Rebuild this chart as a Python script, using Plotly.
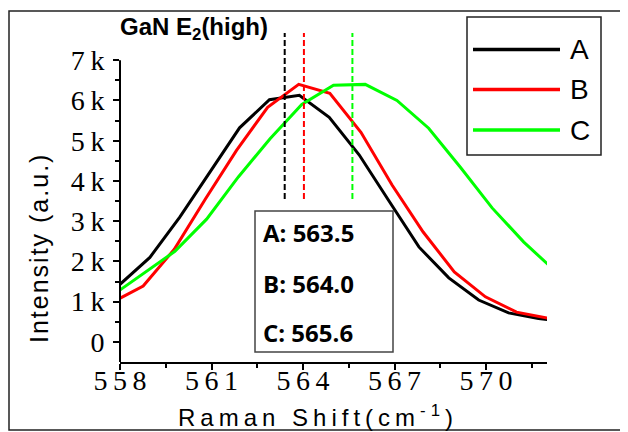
import plotly.graph_objects as go

# ---- data (intensity in thousands of counts) ----
x_A = [558.0, 558.98, 559.96, 560.94, 561.92, 562.9, 563.88, 564.86, 565.84, 566.82, 567.8, 568.78, 569.76, 570.74, 571.72, 572.7]
y_A = [1.43, 2.1, 3.1, 4.22, 5.32, 6.02, 6.13, 5.58, 4.65, 3.5, 2.36, 1.59, 1.04, 0.72, 0.58, 0.5]

x_B = [557.74, 558.76, 559.78, 560.8, 561.82, 562.84, 563.86, 564.88, 565.9, 566.92, 567.94, 568.96, 569.98, 571.0, 572.02]
y_B = [0.98, 1.39, 2.3, 3.55, 4.76, 5.83, 6.4, 6.18, 5.21, 3.9, 2.73, 1.74, 1.12, 0.74, 0.59]

x_C = [557.72, 558.76, 559.8, 560.84, 561.88, 562.92, 563.96, 565.0, 566.04, 567.08, 568.12, 569.16, 570.2, 571.24, 572.28]
y_C = [1.14, 1.7, 2.25, 3.05, 4.1, 5.05, 5.9, 6.38, 6.4, 6.0, 5.31, 4.34, 3.33, 2.48, 1.75]

series_names = ["A", "B", "C"]
series_colors = ["#000000", "#ff0000", "#00ff00"]
peak_positions = [563.4, 564.03, 565.62]
peak_labels = ["A: 563.5", "B: 564.0", "C: 565.6"]
peak_line_span = [3.55, 7.68]

x_tick_vals = [558, 561, 564, 567, 570]
x_minor_vals = [559.5, 562.5, 565.5, 568.5, 571.5]
y_tick_vals = [0, 1, 2, 3, 4, 5, 6, 7]
y_minor_vals = [0.5, 1.5, 2.5, 3.5, 4.5, 5.5, 6.5]
y_tick_text = ["0"] + [f"{v}\u2009k" for v in y_tick_vals[1:]]
x_tick_text = ["\u2009".join(str(v)) for v in x_tick_vals]

fig = go.Figure()
for xs, ys, name, col in zip([x_A, x_B, x_C], [y_A, y_B, y_C], series_names, series_colors):
    fig.add_trace(go.Scatter(x=xs, y=ys, mode="lines", name=name,
                             line=dict(color=col, width=3), showlegend=False))
for xp, col in zip(peak_positions, series_colors):
    fig.add_trace(go.Scatter(x=[xp, xp], y=peak_line_span, mode="lines",
                             line=dict(color=col, width=2, dash="6px,3px"),
                             showlegend=False, hoverinfo="skip"))

# page body has an 8px margin; work in screen pixels and shift
OFF = 8
W, H = 628 - OFF, 432 - OFF
# plot area in screen pixels
L, R, T, B = 120, 547, 20, 362
def px(x):
    return (x - L) / (R - L)
def py(y):
    return (B - y) / (B - T)

shapes = []
# outer frame
shapes.append(dict(type="rect", xref="paper", yref="paper", x0=px(9), x1=px(660), y0=py(430), y1=py(11),
                   line=dict(color="#222222", width=1.5), layer="below"))
# y axis line (stops at 7k)
shapes.append(dict(type="line", xref="paper", yref="paper", x0=0, x1=0, y0=0, y1=7.5 / 8.5,
                   line=dict(color="black", width=2), layer="above"))
# peak-position box
shapes.append(dict(type="rect", xref="paper", yref="paper", x0=px(255), x1=px(393), y0=py(352), y1=py(211),
                   line=dict(color="#444444", width=1.5), fillcolor="white", layer="below"))
# legend box
shapes.append(dict(type="rect", xref="paper", yref="paper", x0=px(467), x1=px(601), y0=py(155), y1=py(17),
                   line=dict(color="#222222", width=1.5), fillcolor="white", layer="above"))
legend_y = [49.5, 89.5, 130]
for yy, col in zip(legend_y, series_colors):
    shapes.append(dict(type="line", xref="paper", yref="paper", x0=px(473), x1=px(560), y0=py(yy), y1=py(yy),
                       line=dict(color=col, width=3.5), layer="above"))

annotations = []
for yy, name in zip(legend_y, series_names):
    annotations.append(dict(xref="paper", yref="paper", x=px(568), y=py(yy), xanchor="left", yanchor="middle",
                            text=name, showarrow=False,
                            font=dict(family="Liberation Sans, Arial", size=28, color="black")))
box_y = [233, 283, 332]
for yy, lab in zip(box_y, peak_labels):
    annotations.append(dict(xref="paper", yref="paper", x=px(261), y=py(yy), xanchor="left", yanchor="middle",
                            text=f"<b>{lab}</b>", showarrow=False,
                            font=dict(family="Open Sans", size=24, color="black")))
annotations.append(dict(xref="paper", yref="paper", x=px(118), y=py(28), xanchor="left", yanchor="middle",
                        text="<b>GaN E<sub>2</sub>(high)</b>", showarrow=False,
                        font=dict(family="Liberation Sans, Arial", size=24, color="black")))
annotations.append(dict(xref="paper", yref="paper", x=px(318), y=py(416), xanchor="center", yanchor="middle",
                        text='<span style="letter-spacing:5px">Raman Shift(cm<sup>-1</sup>)</span>',
                        showarrow=False,
                        font=dict(family="Liberation Sans, Arial", size=24, color="black")))
annotations.append(dict(xref="paper", yref="paper", x=px(39), y=py(248), xanchor="center", yanchor="middle",
                        textangle=-90,
                        text='<span style="letter-spacing:2px">Intensity (a.u.)</span>',
                        showarrow=False,
                        font=dict(family="Liberation Sans, Arial", size=25, color="black")))

fig.update_layout(
    width=W, height=H,
    margin=dict(l=L - OFF, r=W - (R - OFF), t=T - OFF, b=H - (B - OFF), pad=0),
    paper_bgcolor="white", plot_bgcolor="white",
    showlegend=False,
    shapes=shapes, annotations=annotations,
    xaxis=dict(range=[558, 572], tickmode="array", tickvals=x_tick_vals, ticktext=x_tick_text,
               showline=True, linecolor="black", linewidth=2, mirror=False,
               ticks="outside", ticklen=6, tickwidth=2, tickcolor="black",
               minor=dict(tickmode="array", tickvals=x_minor_vals, ticks="outside", ticklen=4,
                          tickwidth=1.5, tickcolor="black", showgrid=False),
               showgrid=False, zeroline=False, ticklabelstandoff=-14,
               tickfont=dict(family="Liberation Serif, Times New Roman", size=28, color="black")),
    yaxis=dict(range=[-0.5, 8.0], tickmode="array", tickvals=y_tick_vals, ticktext=y_tick_text,
               showline=False, ticks="outside", ticklen=6, tickwidth=2, tickcolor="black",
               minor=dict(tickmode="array", tickvals=y_minor_vals, ticks="outside", ticklen=4,
                          tickwidth=1.5, tickcolor="black", showgrid=False),
               showgrid=False, zeroline=False, ticklabelstandoff=3,
               tickfont=dict(family="Liberation Serif, Times New Roman", size=28, color="black")),
)

fig.write_html("out.html")
